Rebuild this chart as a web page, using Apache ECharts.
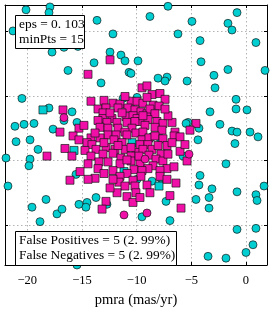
<!DOCTYPE html>
<html><head><meta charset="utf-8">
<script src="https://cdn.jsdelivr.net/npm/echarts@6/dist/echarts.min.js"></script>
<style>html,body{margin:0;padding:0;background:#fff}#c{width:273px;height:313px}</style>
</head><body><div id="c"></div>
<script>
const xTickValues = [-20, -15, -10, -5, 0];
const yTickValues = [-10, -5, 0, 5];
const xRange = [-22.03, 1.92];
const yRange = [-13.1, 7.05];
const xLabel = 'pmra (mas/yr)';
const paramLines = ['eps = 0. 103', 'minPts = 15'];
const errorLines = ['False Positives = 5 (2. 99%)', 'False Negatives = 5 (2. 99%)'];

// true non-members, predicted non-members (cyan circles)
const trueNonMembers = [[-20.11,6.68],[-17.92,6.90],[-18.01,6.46],[-13.62,5.86],[-21.30,5.04],[-12.16,4.81],[-17.73,3.40],[-16.64,3.77],[-15.36,3.84],[-12.43,3.40],[-11.43,3.17],[-11.06,2.72],[-9.87,2.72],[-13.89,2.57],[-16.27,1.98],[-10.69,1.83],[-10.51,1.75],[-13.25,1.01],[-20.48,-0.19],[-18.01,-0.93],[-7.13,6.95],[-8.78,6.16],[-0.82,6.46],[-4.94,5.78],[-1.65,5.63],[-1.28,5.11],[-6.22,4.81],[-4.20,4.29],[0.91,4.14],[-4.11,2.65],[-1.65,2.05],[1.74,1.98],[-2.93,1.60],[-8.04,1.38],[-7.22,1.46],[-7.40,1.16],[-5.39,1.16],[-2.83,0.63],[-11.24,-0.19],[-9.96,-0.11],[-0.91,-0.26],[-0.91,-1.01],[0.09,-1.08],[-3.29,-1.23],[-5.30,-2.05],[-5.48,-2.13],[-4.30,-2.50],[-2.38,-2.20],[-1.28,-2.72],[-0.82,-2.80],[0.37,-2.80],[1.10,-3.17],[-4.39,-3.40],[-1.01,-3.69],[-8.59,-3.17],[-7.86,-3.25],[-5.76,-4.66],[-1.83,-5.26],[-4.20,-6.16],[-4.30,-6.90],[-3.11,-7.20],[-0.82,-7.43],[0.91,-7.65],[1.01,-8.10],[1.65,-6.98],[-4.57,-8.02],[-3.38,-7.87],[-3.38,-8.69],[-8.59,-6.60],[-7.77,-6.38],[-7.31,-8.17],[-9.51,-9.37],[-6.95,-9.66],[-0.82,-10.34],[0.91,-10.26],[0.64,-11.53],[0.00,-12.13],[-3.47,-12.43],[-1.83,-12.57],[-21.12,-2.35],[-20.29,-2.20],[-19.38,-2.13],[-17.64,-2.57],[-15.45,-2.05],[-15.90,-1.23],[-21.02,-3.54],[-19.74,-3.40],[-19.01,-4.14],[-19.74,-4.89],[-19.84,-5.41],[-21.94,-4.81],[-15.54,-6.08],[-21.76,-6.98],[-18.28,-8.02],[-13.71,-7.87],[-14.53,-8.25],[-19.56,-8.62],[-17.28,-9.14],[-16.82,-8.77],[-15.27,-8.40],[-14.63,-8.62],[-12.71,-8.40],[-18.83,-9.74],[-15.45,-13.10],[-16.64,-1.90],[-9.96,-6.46]];

// true non-members predicted as members (magenta circles)
const falsePositives = [[-16.64,-1.68],[-11.15,-9.22],[-9.05,-9.07],[-5.21,-4.51],[-9.23,-4.89]];

// true members predicted as non-members (cyan squares)
const falseNegatives = [[-18.56,-1.08],[-15.72,-4.22],[-7.95,-6.98],[-11.15,-5.86],[-10.42,-3.62]];

// true members, predicted members (magenta squares)
const trueMembers = [[-12.43,2.80],[-14.44,1.68],[-9.51,0.63],[-9.05,0.78],[-8.59,0.11],[-7.86,0.19],[-7.40,-0.26],[-14.17,-0.41],[-12.98,-0.34],[-12.16,-0.56],[-11.52,-0.63],[-10.51,-0.41],[-9.96,-0.41],[-9.42,-0.56],[-8.50,-0.71],[-7.95,-0.78],[-10.79,-0.93],[-13.53,-1.01],[-12.80,-0.93],[-11.70,-0.93],[-10.15,-1.08],[-9.60,-1.23],[-9.05,-1.38],[-8.78,-1.01],[-8.32,-1.38],[-16.73,-1.08],[-13.07,-1.31],[-13.07,-1.75],[-12.25,-1.75],[-10.97,-1.60],[-10.33,-1.53],[-9.96,-1.75],[-9.60,-1.98],[-8.96,-1.83],[-8.14,-1.98],[-7.59,-2.13],[-6.76,-2.05],[-4.57,-2.13],[-13.53,-1.90],[-12.71,-2.05],[-11.79,-2.05],[-10.88,-2.05],[-10.15,-1.98],[-15.27,-2.50],[-17.00,-2.80],[-13.35,-2.43],[-12.61,-2.50],[-11.70,-2.50],[-10.42,-2.50],[-9.23,-2.28],[-8.32,-2.43],[-7.68,-2.65],[-6.49,-2.80],[-11.06,-2.80],[-10.06,-2.87],[-9.42,-2.80],[-12.61,-3.02],[-11.88,-3.02],[-10.88,-3.02],[-15.81,-3.10],[-15.27,-3.40],[-14.17,-3.25],[-13.35,-3.25],[-12.07,-3.40],[-11.33,-3.62],[-14.53,-3.62],[-14.08,-3.77],[-9.51,-3.40],[-8.87,-3.25],[-8.32,-3.10],[-7.59,-3.32],[-6.58,-3.10],[-6.03,-3.17],[-9.69,-3.77],[-8.96,-3.77],[-13.71,-4.14],[-12.80,-3.99],[-11.97,-4.14],[-11.06,-4.14],[-16.55,-4.07],[-14.72,-4.22],[-10.06,-4.37],[-9.42,-4.14],[-8.59,-4.14],[-8.04,-3.84],[-7.22,-3.84],[-7.77,-4.51],[-6.03,-4.29],[-15.91,-4.66],[-14.17,-4.66],[-13.07,-4.51],[-12.16,-4.44],[-11.43,-4.81],[-10.51,-4.66],[-18.19,-4.66],[-8.87,-4.59],[-8.23,-4.89],[-13.44,-5.11],[-12.61,-5.11],[-11.52,-5.26],[-10.51,-5.04],[-9.69,-5.26],[-8.50,-5.41],[-7.59,-5.04],[-5.39,-5.04],[-7.22,-5.63],[-6.58,-5.49],[-8.96,-5.63],[-10.24,-5.71],[-9.51,-5.78],[-7.86,-5.78],[-13.53,-5.63],[-12.16,-5.78],[-10.88,-6.01],[-11.52,-6.23],[-9.60,-6.23],[-7.86,-6.23],[-10.33,-6.53],[-13.80,-6.38],[-14.44,-6.46],[-16.09,-6.53],[-11.61,-6.68],[-11.06,-6.98],[-10.15,-6.98],[-10.06,-7.50],[-10.88,-7.80],[-10.33,-8.25],[-12.80,-8.17],[-13.16,-8.77],[-6.95,-7.72],[-5.94,-8.69],[-13.80,-2.87],[-12.98,-3.62],[-11.70,-3.84],[-10.51,-3.99],[-9.78,-4.66],[-10.88,-4.96],[-12.16,-6.46],[-12.98,-6.01],[-9.05,-6.90],[-8.78,-7.50],[-9.69,-7.87],[-11.79,-7.50],[-7.13,-4.51],[-6.76,-3.62],[-7.13,-1.53],[-7.40,-1.01],[-9.05,-0.11],[-11.06,-0.04],[-14.81,-2.28],[-14.44,-5.26],[-15.17,-5.86],[-7.22,-6.46],[-6.40,-6.75],[-5.58,-3.77],[-5.12,-2.65],[-12.43,-7.13],[-9.42,-1.53],[-12.43,-1.31],[-11.33,-1.31]];

const FONT = '"Liberation Serif", "DejaVu Serif", serif';
const CYAN = '#00ced1';
const MAGENTA = '#f010a8';
const EDGE = 'rgba(20,20,20,0.85)';

const chart = echarts.init(document.getElementById('c'), null, {renderer: 'canvas'});
const minus = v => String(v).replace('-', '\u2212');
const gridLine = {show: true, lineStyle: {color: '#b3b3b3', type: [1.5, 2.5], width: 1}};
const axisLineStyle = {show: true, onZero: false, lineStyle: {color: '#000', width: 1}};
const tick = vals => ({show: true, inside: true, length: 3, customValues: vals, lineStyle: {color: '#000'}});

function mkSeries(name, data, symbol, color, z) {
  return {
    name, type: 'scatter', data, symbol, symbolSize: 8, clip: true, z,
    itemStyle: {color, borderColor: EDGE, borderWidth: 0.8, opacity: 1},
    emphasis: {disabled: true}, animation: false
  };
}

chart.setOption({
  animation: false,
  backgroundColor: '#fff',
  grid: {left: 5, top: 5, width: 262, height: 270, containLabel: false},
  xAxis: [{
    type: 'value', min: xRange[0], max: xRange[1],
    axisLine: axisLineStyle,
    axisTick: tick(xTickValues),
    axisLabel: {show: true, margin: 9, customValues: xTickValues, formatter: minus,
      fontFamily: FONT, fontSize: 12.5, color: '#000'},
    splitLine: gridLine,
    name: xLabel, nameLocation: 'middle', nameGap: 28,
    nameTextStyle: {fontFamily: FONT, fontSize: 14.5, color: '#000'}
  }, {
    type: 'value', position: 'top', min: xRange[0], max: xRange[1],
    axisLine: axisLineStyle,
    axisTick: tick(xTickValues),
    axisLabel: {show: false}, splitLine: {show: false}
  }],
  yAxis: [{
    type: 'value', min: yRange[0], max: yRange[1],
    axisLine: axisLineStyle,
    axisTick: tick(yTickValues),
    axisLabel: {show: false, customValues: yTickValues},
    splitLine: gridLine
  }, {
    type: 'value', position: 'right', min: yRange[0], max: yRange[1],
    axisLine: axisLineStyle,
    axisTick: tick(yTickValues),
    axisLabel: {show: false}, splitLine: {show: false}
  }],
  series: [
    mkSeries('True non-members', trueNonMembers, 'circle', CYAN, 2),
    mkSeries('False negatives', falseNegatives, 'rect', CYAN, 3),
    mkSeries('True members', trueMembers, 'rect', MAGENTA, 4),
    mkSeries('False positives', falsePositives, 'circle', MAGENTA, 5)
  ],
  graphic: [
    {type: 'rect', left: 15, top: 15, z: 100, shape: {width: 69, height: 33},
      style: {fill: '#fff', stroke: '#000', lineWidth: 1}},
    {type: 'text', left: 19, top: 17, z: 101,
      style: {text: paramLines.join('\n'), font: '13.4px ' + FONT, fill: '#000', lineHeight: 15}},
    {type: 'rect', left: 15, top: 231, z: 100, shape: {width: 161, height: 34},
      style: {fill: '#fff', stroke: '#000', lineWidth: 1}},
    {type: 'text', left: 19, top: 233, z: 101,
      style: {text: errorLines.join('\n'), font: '13.4px ' + FONT, fill: '#000', lineHeight: 15}}
  ]
});
</script></body></html>
